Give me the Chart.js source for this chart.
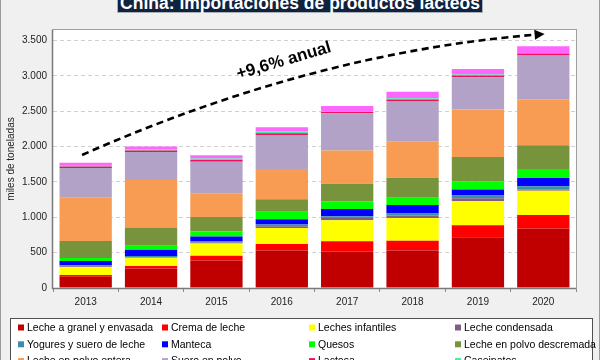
<!DOCTYPE html>
<html><head><meta charset="utf-8">
<script src="https://cdn.jsdelivr.net/npm/chart.js@4/dist/chart.umd.min.js"></script>
<style>
html,body{margin:0;padding:0;background:#f0f0f0;overflow:hidden}
#wrap{position:relative;width:600px;height:360px;overflow:hidden}
canvas{position:absolute;left:0;top:0}
#title{position:absolute;left:117px;top:-9px;width:366px;height:22px;background:#0f233f;color:#fff;font:bold 17.5px "Liberation Sans",Arial,sans-serif;line-height:22px;text-align:center;border:1px solid #a9b0b8;box-sizing:border-box;white-space:nowrap}
</style></head>
<body><div id="wrap"><canvas id="c" width="600" height="360"></canvas><div id="title">China: importaciones de productos lácteos</div></div>
<script>
const years = ['2013','2014','2015','2016','2017','2018','2019','2020'];
const granel      = [159,277,390,532,518,530,717,840];
const crema       = [24,33,66,90,142,137,170,194];
const infantiles  = [114,118,175,227,298,322,345,341];
const condensada  = [12,12,14,24,33,38,38,19];
const yogures     = [12,12,14,24,24,28,38,47];
const manteca     = [61,90,71,76,104,118,85,114];
const quesos      = [43,57,71,104,109,104,118,128];
const descremada  = [241,256,203,180,246,284,341,336];
const entera      = [611,672,336,426,473,516,672,653];
const suero       = [421,398,445,483,525,568,459,625];
const lactosa     = [22,20,25,25,18,20,25,20];
const caseinatos  = [20,18,22,22,15,18,12,8];
const otros       = [33,38,47,62,71,95,80,95];
const yTicks = [0,500,1000,1500,2000,2500,3000,3500];
const trendLabel = '+9,6% anual';
// trend arrow in data space (category index, value)
const arrowIdx = [-0.055, 3.47, 7.02];
const arrowVal = [1882, 3325, 3594];
const trendIdx = 3.03, trendVal = 3212;

const series = [
  ['Leche a granel y envasada', granel, '#c00000'],
  ['Crema de leche', crema, '#ff0000'],
  ['Leches infantiles', infantiles, '#ffff00'],
  ['Leche condensada', condensada, '#7f6084'],
  ['Yogures y suero de leche', yogures, '#3a8fa8'],
  ['Manteca', manteca, '#0000ff'],
  ['Quesos', quesos, '#00ff00'],
  ['Leche en polvo descremada', descremada, '#77933c'],
  ['Leche en polvo entera', entera, '#f79c52'],
  ['Suero en polvo', suero, '#b3a2c7'],
  ['Lactosa', lactosa, '#f0105e'],
  ['Caseinatos', caseinatos, '#3cf0a0'],
  ['Otros', otros, '#ff66ff']
];

const fmt = v => String(v).replace(/\B(?=(\d{3})+(?!\d))/g, '.');

const decor = {
  id: 'decor',
  beforeDraw(chart) {
    const {ctx, chartArea: a} = chart;
    ctx.save();
    ctx.fillStyle = '#f0f0f0';
    ctx.fillRect(0, 0, chart.width, chart.height);
    ctx.fillStyle = '#ffffff';
    ctx.fillRect(a.left, a.top, a.right - a.left, a.bottom - a.top);
    ctx.strokeStyle = '#9a9a9a';
    ctx.lineWidth = 1;
    ctx.beginPath();
    ctx.moveTo(0.5, 0); ctx.lineTo(0.5, chart.height);
    ctx.moveTo(chart.width - 0.5, 0); ctx.lineTo(chart.width - 0.5, chart.height);
    ctx.stroke();
    ctx.restore();
  },
  afterDraw(chart) {
    const {ctx, chartArea: a, scales: {x, y}} = chart;
    ctx.save();
    // plot frame
    ctx.strokeStyle = '#a0a0a0';
    ctx.lineWidth = 1;
    ctx.strokeRect(a.left - 0.5, a.top - 0.5, a.right - a.left + 1, a.bottom - a.top + 1);
    ctx.strokeStyle = '#7a7a7a';
    ctx.lineWidth = 1.5;
    ctx.beginPath();
    ctx.moveTo(a.left - 0.5, a.top); ctx.lineTo(a.left - 0.5, a.bottom + 0.5);
    ctx.lineTo(a.right, a.bottom + 0.5);
    ctx.stroke();

    // trend arrow
    const p = arrowIdx.map((v, i) => [x.getPixelForValue(v), y.getPixelForValue(arrowVal[i])]);
    const [p0, c, p2] = p;
    const dx = p2[0] - c[0], dy = p2[1] - c[1];
    const L = Math.hypot(dx, dy), ux = dx / L, uy = dy / L;
    const head = 10, hw = 5;
    const end = [p2[0] - ux * head, p2[1] - uy * head];
    ctx.strokeStyle = '#000';
    ctx.lineWidth = 2.6;
    ctx.setLineDash([7, 4.5]);
    ctx.beginPath();
    ctx.moveTo(p0[0], p0[1]);
    ctx.quadraticCurveTo(c[0], c[1], end[0], end[1]);
    ctx.stroke();
    ctx.setLineDash([]);
    ctx.fillStyle = '#000';
    ctx.beginPath();
    ctx.moveTo(p2[0], p2[1]);
    ctx.lineTo(end[0] - uy * hw, end[1] + ux * hw);
    ctx.lineTo(end[0] + uy * hw, end[1] - ux * hw);
    ctx.closePath();
    ctx.fill();

    // trend label
    ctx.translate(x.getPixelForValue(trendIdx), y.getPixelForValue(trendVal));
    ctx.rotate(-16.4 * Math.PI / 180);
    ctx.font = 'bold 17px "Liberation Sans", Arial, sans-serif';
    ctx.textAlign = 'center';
    ctx.textBaseline = 'middle';
    ctx.fillText(trendLabel, 0, 0);
    ctx.restore();

    // legend
    ctx.save();
    const lx = 10.5, ly = 318.5;
    ctx.fillStyle = '#ffffff';
    ctx.fillRect(lx, ly, 582, 60);
    ctx.strokeStyle = '#505050';
    ctx.lineWidth = 1;
    ctx.strokeRect(lx, ly, 582, 60);
    const cols = [18, 162, 309, 455];
    ctx.font = '10.5px "Liberation Sans", Arial, sans-serif';
    ctx.textBaseline = 'middle';
    chart.data.datasets.forEach((ds, i) => {
      const cx = cols[i % 4], cy = 327.5 + Math.floor(i / 4) * 16.8;
      ctx.fillStyle = ds.backgroundColor;
      ctx.fillRect(cx, cy - 3, 6, 6);
      ctx.fillStyle = '#000';
      ctx.fillText(ds.label, cx + 9, cy + 0.5);
    });
    ctx.restore();
  }
};

new Chart(document.getElementById('c'), {
  type: 'bar',
  data: {
    labels: years,
    datasets: series.map(([label, data, color]) => ({
      label, data, backgroundColor: color, borderWidth: 0,
      categoryPercentage: 1, barPercentage: 0.8
    }))
  },
  options: {
    responsive: false,
    animation: false,
    layout: {padding: {left: 0, right: 24, top: 30, bottom: 0}},
    plugins: {legend: {display: false}, tooltip: {enabled: false}},
    scales: {
      x: {
        stacked: true,
        afterFit: s => { s.height = 72; },
        grid: {display: true, drawOnChartArea: false, drawTicks: true, tickLength: 4, color: '#8a8a8a', offset: true},
        border: {display: false},
        ticks: {color: '#222', padding: 4, font: {family: '"Liberation Sans", Arial, sans-serif', size: 10}}
      },
      y: {
        stacked: true,
        min: 0, max: 3650,
        afterFit: s => { s.width = 53; },
        afterBuildTicks: s => { s.ticks = yTicks.map(v => ({value: v})); },
        grid: {color: '#d0d0d0', drawTicks: false, lineWidth: 1},
        border: {display: false, dash: [4, 3]},
        ticks: {color: '#222', padding: 6, callback: v => fmt(v), font: {family: '"Liberation Sans", Arial, sans-serif', size: 10}},
        title: {display: true, text: 'miles de toneladas', color: '#222', padding: {top: 5, bottom: 0}, font: {family: '"Liberation Sans", Arial, sans-serif', size: 10}}
      }
    }
  },
  plugins: [decor]
});
</script>
</body></html>
